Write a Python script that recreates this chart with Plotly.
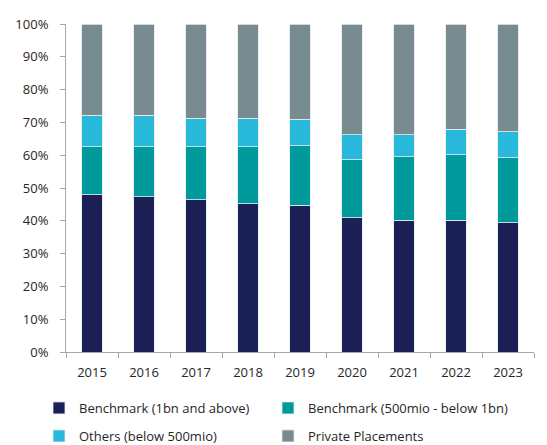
import plotly.graph_objects as go

years = ["2015", "2016", "2017", "2018", "2019", "2020", "2021", "2022", "2023"]
bench_1bn = [48.0, 47.3, 46.4, 45.2, 44.8, 40.9, 40.2, 40.2, 39.4]
bench_500 = [14.6, 15.3, 16.2, 17.4, 18.1, 17.7, 19.4, 19.9, 19.8]
others = [9.6, 9.6, 8.6, 8.6, 8.0, 7.7, 6.7, 7.8, 7.9]
private = [27.8, 27.8, 28.8, 28.8, 29.1, 33.7, 33.7, 32.1, 32.9]

series = [
    ("Benchmark (1bn and above)", bench_1bn, "#1B2157", "legend"),
    ("Benchmark (500mio - below 1bn)", bench_500, "#009A9C", "legend2"),
    ("Others (below 500mio)", others, "#28B8DC", "legend3"),
    ("Private Placements", private, "#788B91", "legend4"),
]

fig = go.Figure()
for name, vals, col, leg in series:
    fig.add_trace(go.Bar(
        x=years, y=[v / 100 for v in vals], name=name, legend=leg,
        marker=dict(color=col, line=dict(color="#E6ECEE", width=0.8)),
        width=0.4,
    ))

# the page body has an 8px margin; compensate so the figure fills the 547x445 view
OFF = 8
W, H = 547 - OFF, 445 - OFF
ML, MR, MT, MB = 66 - OFF, 13, 24 - OFF, 93
pw, ph = W - ML - MR, H - MT - MB

legend_common = dict(
    orientation="h", xanchor="left", yanchor="middle",
    font=dict(size=13, color="#262626"),
    bgcolor="rgba(0,0,0,0)",
)
col1_x, col2_x = (31 - ML) / pw, (260 - ML) / pw
row1_y, row2_y = (H - MB - 400) / ph, (H - MB - 428) / ph

fig.update_layout(
    barmode="stack",
    width=W, height=H,
    margin=dict(l=ML, r=MR, t=MT, b=MB, autoexpand=False),
    plot_bgcolor="white", paper_bgcolor="white",
    font=dict(family="Open Sans, Liberation Sans, sans-serif", size=13, color="#262626"),
    showlegend=True,
    legend=dict(x=col1_x, y=row1_y, **legend_common),
    legend2=dict(x=col2_x, y=row1_y, **legend_common),
    legend3=dict(x=col1_x, y=row2_y, **legend_common),
    legend4=dict(x=col2_x, y=row2_y, **legend_common),
    xaxis=dict(
        showline=True, linecolor="#A6A6A6", linewidth=1,
        ticks="outside", tickcolor="#A6A6A6", ticklen=5,
        tickson="boundaries", ticklabelstandoff=8,
        tickfont=dict(size=13, color="#262626"),
    ),
    yaxis=dict(
        range=[0, 1], tickformat=".0%", dtick=0.1,
        showline=True, linecolor="#A6A6A6", linewidth=1,
        ticks="outside", tickcolor="#A6A6A6", ticklen=5,
        ticklabelstandoff=9,
        showgrid=False, zeroline=False,
        tickfont=dict(size=13, color="#262626"),
    ),
)

fig.write_html("out.html")
